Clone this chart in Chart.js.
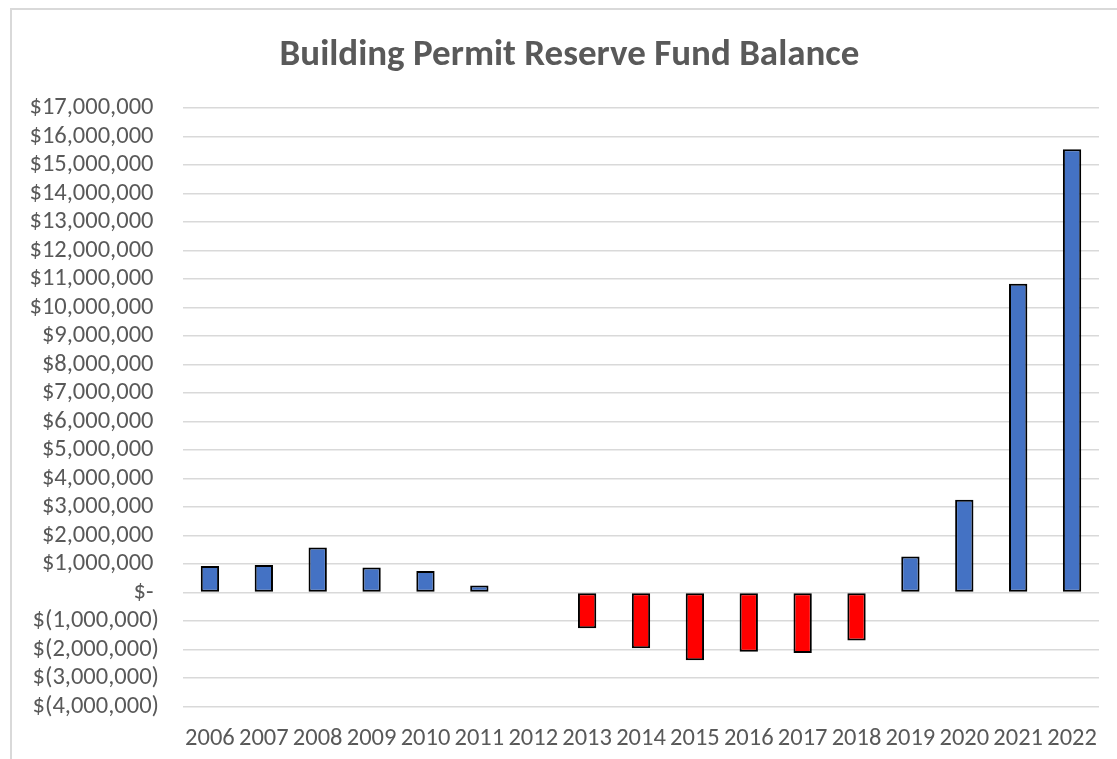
<!DOCTYPE html>
<html>
<head>
<meta charset="utf-8">
<script src="https://cdn.jsdelivr.net/npm/chart.js@4.4.1/dist/chart.umd.min.js"></script>
<style>
  html, body { margin: 0; padding: 0; background: #fff; }
  #frame { position: absolute; left: 10px; top: 8px; width: 1200px; height: 800px;
           border-left: 2px solid #d9d9d9; border-top: 2px solid #d9d9d9; }
  #wrap { position: absolute; left: 0; top: 0; width: 1117px; height: 759px; }
</style>
</head>
<body>
<div id="frame"></div>
<div id="wrap"><canvas id="c" width="1117" height="759"></canvas></div>
<script>
const years = ['2006','2007','2008','2009','2010','2011','2012','2013','2014','2015','2016','2017','2018','2019','2020','2021','2022'];
const balances = [930000, 970000, 1580000, 880000, 760000, 250000, 0, -1250000, -1950000, -2370000, -2080000, -2120000, -1680000, 1270000, 3260000, 10830000, 15550000];
const chartTitle = 'Building Permit Reserve Fund Balance';
const yMin = -4000000, yMax = 17000000, yStep = 1000000;

const FONT = "Carlito, Calibri, 'Liberation Sans', sans-serif";
const TEXT = '#595959';

function fmtAcct(v) {
  if (v === 0) return '$- ';
  const s = Math.abs(v).toLocaleString('en-US');
  return v < 0 ? '$(' + s + ')' : '$' + s + ' ';
}

// Title drawn centred over the chart frame (as in the spreadsheet chart)
const titlePlugin = {
  id: 'frameTitle',
  afterDraw(chart, args, opts) {
    const ctx = chart.ctx;
    ctx.save();
    ctx.fillStyle = TEXT;
    ctx.font = 'bold 37px ' + FONT;
    ctx.textAlign = 'center';
    ctx.textBaseline = 'middle';
    ctx.fillText(opts.text, opts.x, opts.y);
    ctx.restore();
  }
};

new Chart(document.getElementById('c'), {
  type: 'bar',
  data: {
    labels: years,
    datasets: [{
      data: balances,
      backgroundColor: balances.map(v => v < 0 ? '#FF0000' : '#4472C4'),
      borderColor: '#000000',
      borderWidth: balances.map(v => v === 0 ? 0 : 2),
      borderSkipped: false,
      barPercentage: 0.34,
      categoryPercentage: 1.0
    }]
  },
  plugins: [titlePlugin],
  options: {
    responsive: false,
    animation: false,
    devicePixelRatio: 1,
    layout: { padding: { left: 0, right: 18, top: 108, bottom: -13 } },
    plugins: {
      legend: { display: false },
      tooltip: { enabled: false },
      title: { display: false },
      frameTitle: { text: chartTitle, x: 569.5, y: 56 }
    },
    scales: {
      x: {
        grid: { display: false, drawTicks: false },
        border: { display: false },
        ticks: { color: TEXT, font: { family: FONT, size: 24.5 }, padding: 18, maxRotation: 0, autoSkip: false }
      },
      y: {
        min: yMin, max: yMax,
        afterFit: s => { s.width = 183; },
        grid: { color: '#d9d9d9', lineWidth: 1.5, drawTicks: false },
        border: { display: false },
        ticks: { stepSize: yStep, autoSkip: false, color: TEXT, font: { family: FONT, size: 24.5 }, padding: 24, callback: v => fmtAcct(v) }
      }
    }
  }
});
</script>
</body>
</html>
